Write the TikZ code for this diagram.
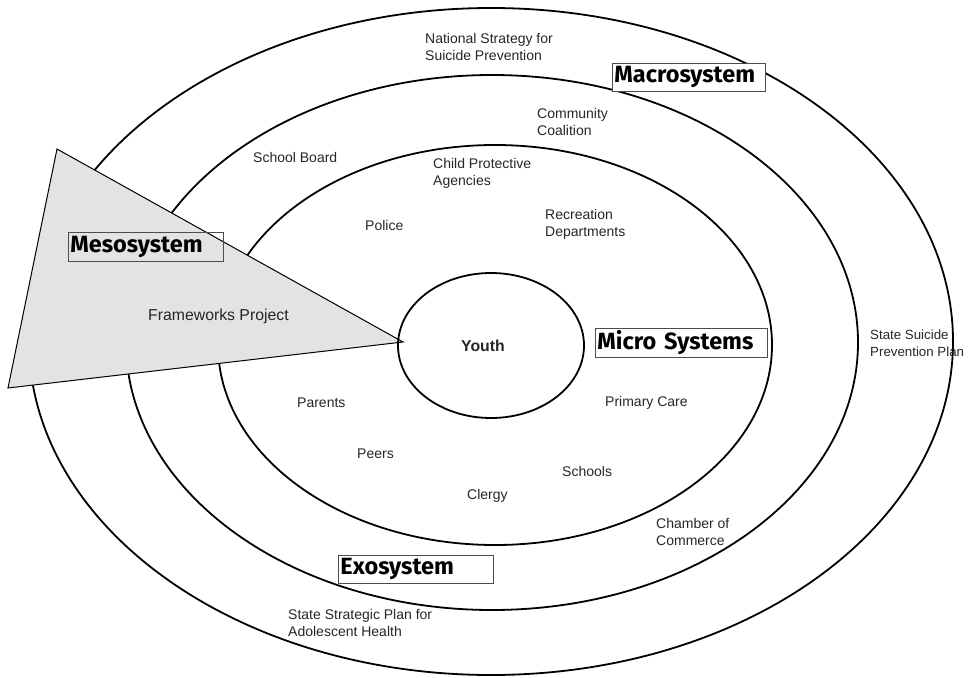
\documentclass[tikz,border=0pt]{standalone}
\usepackage{fontspec}
\setmainfont{Liberation Sans}
\newfontfamily\boxfont{Fira Sans}
\usetikzlibrary{shapes.geometric}
\tikzset{
  ring/.style={draw, ellipse, line width=1.8pt, inner sep=0pt},
  lbl/.style={font=\fontsize{14}{17}\selectfont, text=black!85, inner sep=0pt, align=left},
  sysbox/.style={draw=black!70, line width=0.9pt, rectangle, inner sep=0pt, inner xsep=2pt,
     align=left, font=\boxfont\bfseries\fontsize{23.5}{26}\selectfont, anchor=north west},
}
\begin{document}
\begin{tikzpicture}[x=1pt,y=-1pt]
\useasboundingbox (0,0) rectangle (971,677);
% rings
\node[ring, minimum width=924pt, minimum height=667pt] (outer) at (491,341.5) {};
\node[ring, minimum width=732pt, minimum height=535pt] (exo) at (492,342.5) {};
\node[ring, minimum width=554pt, minimum height=400pt] (micro) at (495,345) {};
% triangle
\coordinate (t1) at (57,149);
\coordinate (t2) at (8,388);
\coordinate (t3) at (403,342);
\fill[black!11] (t1) -- (t2) -- (t3) -- cycle;
\draw[line width=1pt, line join=miter] (t1) -- (t2) -- (t3) -- cycle;
% youth
\node[ring, minimum width=186pt, minimum height=145pt] (youth) at (491,345.5) {};
\node[font=\bfseries\fontsize{15.8}{18}\selectfont, text=black!85, inner sep=0pt] (youthlbl) at (483,346) {Youth};
% boxes
\node[sysbox, fill=white, text width=149pt, minimum height=28pt] (macro) at (612,63) {Macrosystem};
\node[sysbox, text width=151pt, minimum height=29pt] (meso) at (68,232) {Mesosystem};
\node[sysbox, fill=white, text width=168pt, minimum height=29pt] (microbox) at (595,328) {Micro Systems};
\node[sysbox, fill=white, text width=151pt, minimum height=28pt] (exobox) at (338,555) {Exosystem};
% labels
\node[lbl, anchor=west] (nat) at (425,46.5) {National Strategy for\\Suicide Prevention};
\node[lbl, anchor=west] (comm) at (537,121.5) {Community\\Coalition};
\node[lbl, anchor=west] (sb) at (253,157) {School Board};
\node[lbl, anchor=west] (cpa) at (433,173.5) {Child Protective\\Agencies};
\node[lbl, anchor=west] (pol) at (365,225) {Police};
\node[lbl, anchor=west] (rec) at (545,224.5) {Recreation\\Departments};
\node[lbl, anchor=west, font=\fontsize{15.8}{18}\selectfont] (fw) at (148,316) {Frameworks Project};
\node[lbl, anchor=west, font=\fontsize{13.3}{17}\selectfont] (ssp) at (870,343.5) {State Suicide\\Prevention Plan};
\node[lbl, anchor=west] (par) at (297,403) {Parents};
\node[lbl, anchor=west] (pc) at (605,403) {Primary Care};
\node[lbl, anchor=west] (peer) at (357,454) {Peers};
\node[lbl, anchor=west] (sch) at (562,471) {Schools};
\node[lbl, anchor=west] (cle) at (467,496) {Clergy};
\node[lbl, anchor=west] (coc) at (656,531.5) {Chamber of\\Commerce};
\node[lbl, anchor=west] (sspa) at (288,622.5) {State Strategic Plan for\\Adolescent Health};
\end{tikzpicture}
\end{document}
